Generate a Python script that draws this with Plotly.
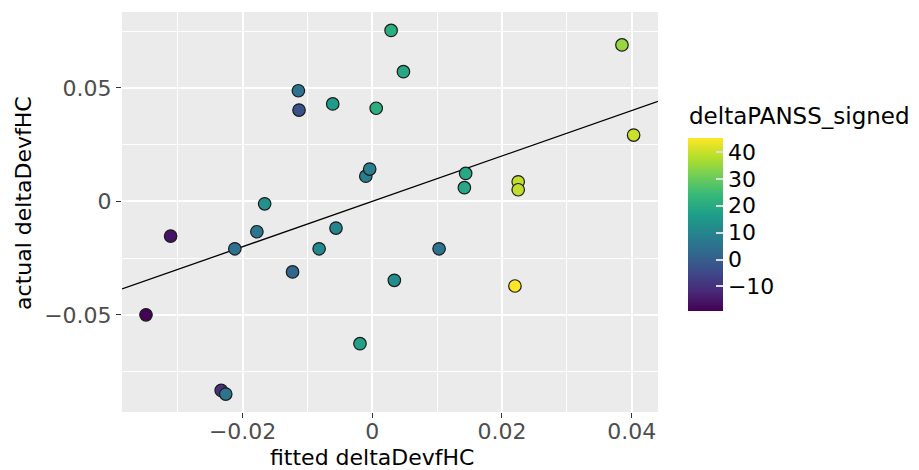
import plotly.graph_objects as go

# ---- data ----
fitted = [0.0029, 0.0048, -0.0114, -0.0113, -0.0061, 0.0006, -0.0010, -0.0004,
          -0.0166, -0.0178, -0.0056, -0.0311, -0.0212, -0.0082, -0.0123, 0.0034,
          0.0103, -0.0349, -0.0019, -0.0233, -0.0226, 0.0385, 0.0403, 0.0144,
          0.0142, 0.0225, 0.0225, 0.0220]
actual = [0.0753, 0.0571, 0.0487, 0.0402, 0.0429, 0.0410, 0.0111, 0.0142,
          -0.0011, -0.0134, -0.0118, -0.0153, -0.0209, -0.0209, -0.0311, -0.0348,
          -0.0209, -0.0500, -0.0627, -0.0833, -0.0849, 0.0689, 0.0292, 0.0123,
          0.0060, 0.0086, 0.0051, -0.0373]
panss = [21, 19, 5, -3, 16, 21, 8, 8,
         13, 6, 10, -16, 5, 11, 2, 12,
         5, -19, 17, -10, 6, 35, 40, 19,
         19, 39, 39, 45]

line_slope = 1.0
line_intercept = 0.0

x_ticks = [-0.02, 0, 0.02, 0.04]
x_tick_labels = ["\u22120.02", "0", "0.02", "0.04"]
x_minor = [-0.03, -0.01, 0.01, 0.03]
y_ticks = [-0.05, 0, 0.05]
y_tick_labels = ["\u22120.05", "0", "0.05"]
y_minor = [-0.075, -0.025, 0.025, 0.075]
cb_ticks = [-10, 0, 10, 20, 30, 40]
cb_tick_labels = ["\u221210", "0", "10", "20", "30", "40"]

x_range = [-0.0386, 0.04406]
y_range = [-0.0928, 0.0834]
c_range = [-19.3, 45]

FONT = "DejaVu Sans"

fig = go.Figure()

# identity / regression line
line_x = x_range
line_y = [line_slope * v + line_intercept for v in line_x]
fig.add_trace(go.Scatter(
    x=line_x, y=line_y, mode="lines",
    line=dict(color="black", width=1.3),
    showlegend=False, hoverinfo="skip",
))

fig.add_trace(go.Scatter(
    x=fitted, y=actual, mode="markers",
    marker=dict(
        size=12.5,
        color=panss,
        colorscale="Viridis",
        cmin=c_range[0], cmax=c_range[1],
        line=dict(color="#1a1a1a", width=1.2),
        colorbar=dict(
            x=1.056, xanchor="left", xpad=0,
            y=0.4675, yanchor="middle", ypad=0,
            thickness=35, thicknessmode="pixels",
            len=173.4, lenmode="pixels",
            outlinewidth=0,
            tickmode="array", tickvals=cb_ticks, ticktext=cb_tick_labels,
            ticks="inside", ticklen=7, tickcolor="#dddddd", tickwidth=1.5,
            tickfont=dict(family=FONT, size=22, color="black"),
        ),
    ),
    showlegend=False,
))

axis_common = dict(
    showgrid=True, gridcolor="white", gridwidth=1.5,
    zeroline=False, showline=False,
    ticks="outside", ticklen=5, tickwidth=1.1, tickcolor="#333333",
    tickfont=dict(family=FONT, size=22, color="#4D4D4D"),
)

fig.update_layout(
    width=919, height=470,
    margin=dict(l=122, r=261, t=12, b=58),
    paper_bgcolor="white",
    plot_bgcolor="#EBEBEB",
    font=dict(family=FONT, color="black"),
    xaxis=dict(
        range=x_range, tickmode="array", tickvals=x_ticks, ticktext=x_tick_labels,
        ticklabelstandoff=-5,
        minor=dict(tickmode="array", tickvals=x_minor, showgrid=True,
                   gridcolor="white", gridwidth=0.7, ticks=""),
        **axis_common,
    ),
    yaxis=dict(
        range=y_range, tickmode="array", tickvals=y_ticks, ticktext=y_tick_labels,
        minor=dict(tickmode="array", tickvals=y_minor, showgrid=True,
                   gridcolor="white", gridwidth=0.7, ticks=""),
        **axis_common,
    ),
    annotations=[
        dict(text="fitted deltaDevfHC", xref="paper", yref="paper",
             x=0.4664, y=-0.1125, xanchor="center", yanchor="middle",
             borderpad=0,
             showarrow=False, font=dict(family=FONT, size=22, color="black")),
        dict(text="actual deltaDevfHC", xref="paper", yref="paper",
             x=-0.1838, y=0.524, xanchor="center", yanchor="middle",
             textangle=-90, borderpad=0,
             showarrow=False, font=dict(family=FONT, size=22, color="black")),
        dict(text="deltaPANSS_signed", xref="paper", yref="paper",
             x=1.056, y=0.74, xanchor="left", yanchor="middle",
             borderpad=0,
             showarrow=False, font=dict(family=FONT, size=23, color="black")),
    ],
)

fig.write_html("out.html")
